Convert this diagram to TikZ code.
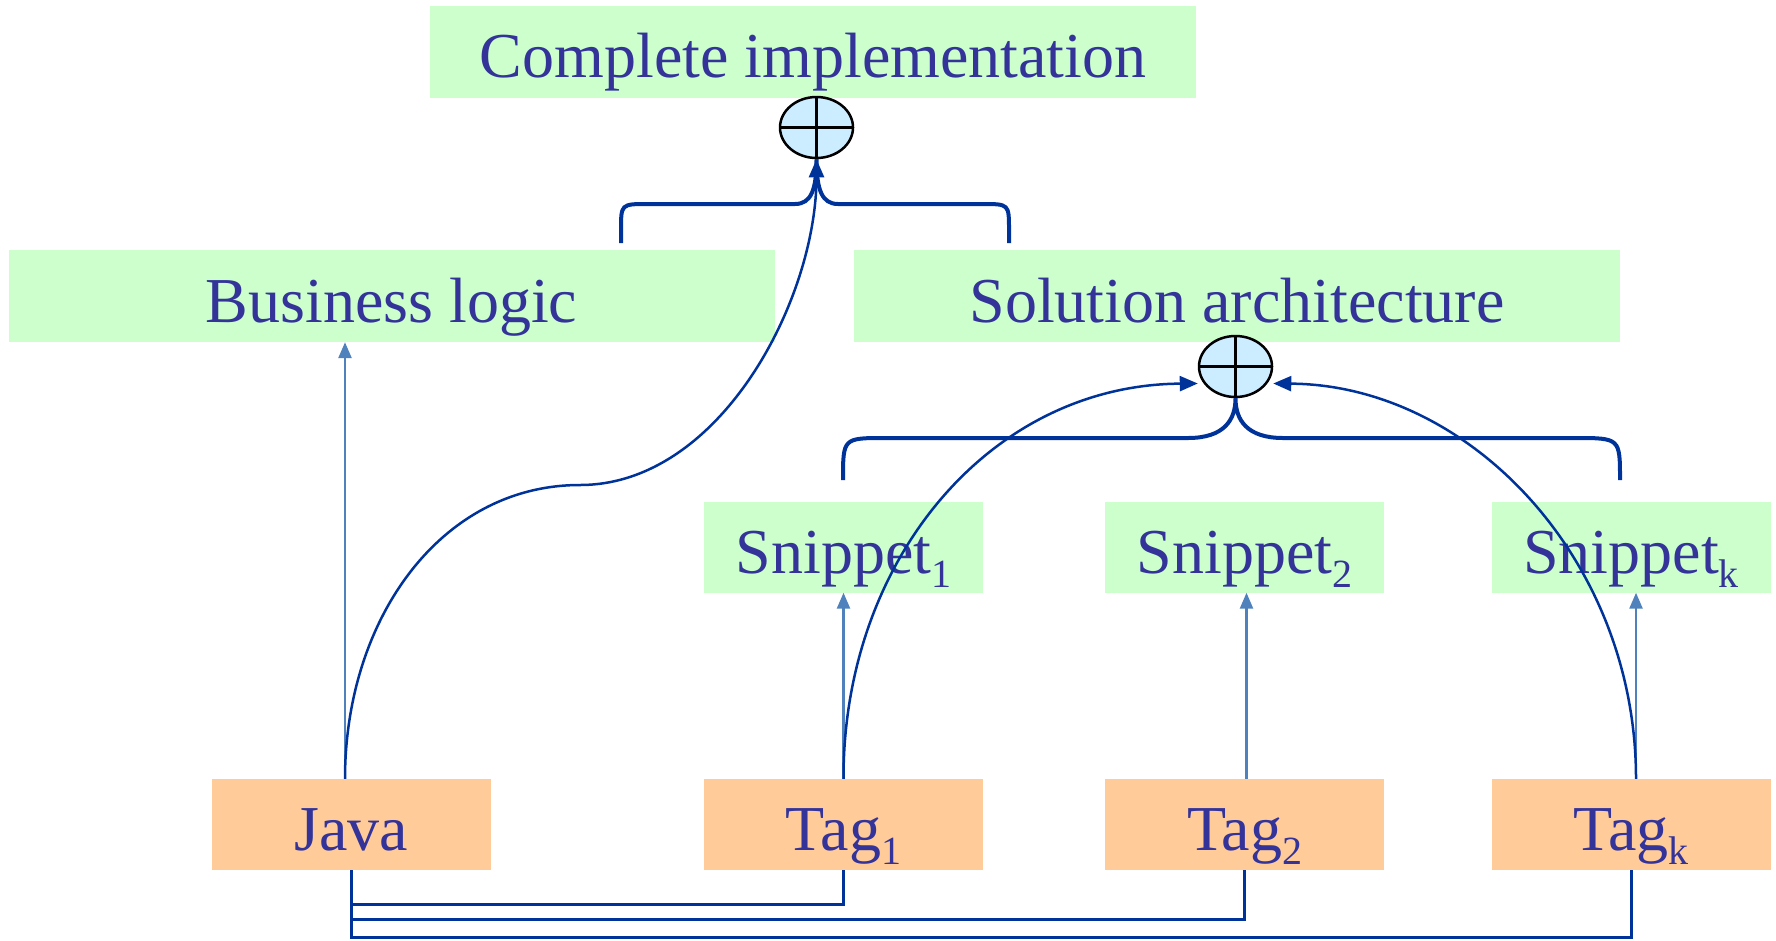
\documentclass[tikz,border=0pt]{standalone}
\usepackage{fontspec}
\setmainfont{Liberation Serif}
\usetikzlibrary{shapes.geometric,arrows.meta}
\definecolor{txt}{HTML}{333399}
\definecolor{link}{HTML}{003399}
\definecolor{feed}{HTML}{4F81BD}
\definecolor{greenbox}{HTML}{CCFFCC}
\definecolor{orangebox}{HTML}{FFCC99}
\definecolor{sumfill}{HTML}{CCECFF}
% lowered index after a label word
\newcommand{\idx}[1]{\raisebox{-14pt}{\fontsize{40}{40}\selectfont #1}}

\begin{document}
\begin{tikzpicture}[x=1pt,y=-1pt,
  box/.style={rectangle, inner sep=0pt, text=txt,
    font=\fontsize{64}{70}\selectfont, text height=52pt, text depth=0pt},
  part/.style={box, fill=greenbox},
  tagbox/.style={box, fill=orangebox, minimum width=279pt, minimum height=91pt},
  snipbox/.style={part, minimum width=279pt, minimum height=91pt},
  wide/.style={part, minimum width=766pt, minimum height=92pt},
  sum/.style={ellipse, draw=black, line width=2.5pt, fill=sumfill,
    minimum width=73pt, minimum height=61pt, inner sep=0pt},
  brace/.style={draw=link, line width=4pt},
  trace/.style={draw=link, line width=2.5pt, -{Triangle[length=18pt,width=15pt]}},
  feedarrow/.style={draw=feed, line width=2.5pt, -{Triangle[length=16pt,width=13pt]}},
  bus/.style={draw=link, line width=3pt}
]
\useasboundingbox (0,0) rectangle (1776,940);

% boxes
\node[wide] (impl) at (813,51.5) {Complete implementation};
\node[wide] (biz) at (391.5,296) {Business logic};
\node[wide] (arch) at (1237,296) {Solution architecture};

\node[snipbox] (sn1) at (843.5,547) {Snippet\idx{1}};
\node[snipbox] (sn2) at (1244.5,547) {Snippet\idx{2}};
\node[snipbox] (snk) at (1631,547) {Snippet\idx{k}};

\node[tagbox] (java) at (351,824.5) {Java};
\node[tagbox] (tag1) at (843.5,824.5) {Tag\idx{1}};
\node[tagbox] (tag2) at (1244.5,824.5) {Tag\idx{2}};
\node[tagbox] (tagk) at (1631,824.5) {Tag\idx{k}};

% composition operators
\node[sum] (s1) at (816.5,127.5) {};
\node[sum] (s2) at (1235.5,366.5) {};
\foreach \s in {s1,s2}{
  \draw[line width=2.5pt] (\s.north) -- (\s.south);
  \draw[line width=2.5pt] (\s.west) -- (\s.east);
}

% braces gathering the parts
\draw[brace] (621,243) -- (621,230) .. controls (621,204) .. (648,204)
  -- (795,204) .. controls (811,204) and (816.5,190) .. (s1.south)
  .. controls (816.5,190) and (822,204) .. (838,204)
  -- (982,204) .. controls (1009,204) .. (1009,230) -- (1009,243);
\draw[brace] (843,480) .. controls (843,438) .. (885,438)
  -- (1188,438) .. controls (1224,438) and (1235.5,420) .. (s2.south)
  .. controls (1235.5,420) and (1247,438) .. (1283,438)
  -- (1575,438) .. controls (1620,438) .. (1620,480);

% tags feeding their parts
\draw[feedarrow] ([xshift=-6pt]java.north) -- ([xshift=-6pt]java.north |- biz.south);
\draw[feedarrow] (tag1.north) -- (sn1.south);
\draw[feedarrow] ([xshift=2pt]tag2.north) -- ([xshift=2pt]sn2.south);
\draw[feedarrow] ([xshift=5pt]tagk.north) -- ([xshift=5pt]snk.south);

% traces into the composition operators
\draw[trace] ([xshift=-6pt]java.north) .. controls (345,620) and (440,485) .. (580,485)
  .. controls (720,485) and (816.5,300) .. (s1.south);
\draw[trace] (tag1.north) .. controls (843,560) and (990,385) .. ([yshift=-17pt]s2.west);
\draw[trace] ([xshift=5pt]tagk.north) .. controls (1636,560) and (1470,385) .. ([yshift=-17pt]s2.east);

% bus lines under the tags
\draw[bus] (java.south) -- ++(0,68);
\draw[bus] (java.south) |- (843.5,904) -- (tag1.south);
\draw[bus] (java.south) |- (1244.5,919) -- (tag2.south);
\draw[bus] (java.south) |- (1631,937) -- (tagk.south);
\end{tikzpicture}
\end{document}
